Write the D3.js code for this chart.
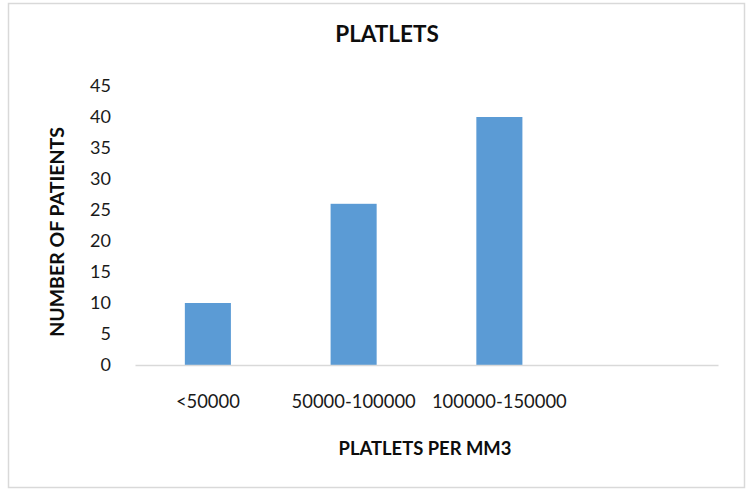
<!DOCTYPE html>
<html>
<head>
<meta charset="utf-8">
<script src="https://cdn.jsdelivr.net/npm/d3@7/dist/d3.min.js"></script>
<style>
  html, body { margin: 0; padding: 0; background: #fff; }
  svg { display: block; font-family: Lato, "Open Sans", sans-serif; }
</style>
</head>
<body>
<svg id="chart" width="753" height="490"></svg>
<script>
// Platelet count ranges and the number of patients in each
const categories = ["<50000", "50000-100000", "100000-150000", ""];
const patients = [10, 26, 40, null];
const yTicks = [0, 5, 10, 15, 20, 25, 30, 35, 40, 45];

const chartTitle = "PLATLETS";
const xTitle = "PLATLETS PER MM3";
const yTitle = "NUMBER OF PATIENTS";

const svg = d3.select("#chart");
const plot = { left: 135, right: 718, top: 86, bottom: 365 };

// outer frame
svg.append("rect")
  .attr("x", 8.5).attr("y", 3.5)
  .attr("width", 736).attr("height", 484)
  .attr("fill", "#fff")
  .attr("stroke", "#d9d9d9").attr("stroke-width", 1.5);

const x = d3.scaleBand()
  .domain(categories)
  .range([plot.left, plot.right])
  .paddingInner(0.684)
  .paddingOuter(0.342);

const y = d3.scaleLinear()
  .domain([0, 45])
  .range([plot.bottom, plot.top]);

// bars
svg.append("g")
  .selectAll("rect")
  .data(categories.map((c, i) => ({ c, v: patients[i] })).filter(d => d.v != null))
  .join("rect")
  .attr("x", d => x(d.c))
  .attr("y", d => y(d.v))
  .attr("width", x.bandwidth())
  .attr("height", d => y(0) - y(d.v))
  .attr("fill", "#5b9bd5");

// y axis labels (no line, no ticks)
const yAxis = svg.append("g")
  .attr("transform", `translate(${plot.left - 24},0)`)
  .call(d3.axisLeft(y).tickValues(yTicks).tickSize(0).tickPadding(0));
yAxis.select(".domain").remove();
yAxis.selectAll("text")
  .attr("font-family", "Lato, sans-serif")
  .attr("font-size", 18)
  .attr("fill", "#1a1a1a");

// x axis baseline and category labels
const xAxis = svg.append("g")
  .attr("transform", `translate(0,${plot.bottom})`)
  .call(d3.axisBottom(x).tickSize(0).tickPadding(30));
xAxis.select(".domain")
  .attr("stroke", "#d9d9d9").attr("stroke-width", 1.5);
xAxis.selectAll("text")
  .attr("font-family", "Lato, sans-serif")
  .attr("font-size", 18.4)
  .attr("fill", "#1a1a1a");

// titles
svg.append("text")
  .attr("x", 387).attr("y", 41.5)
  .attr("text-anchor", "middle")
  .attr("font-size", 22.5).attr("font-weight", "bold")
  .attr("fill", "#0d0d0d")
  .text(chartTitle);

svg.append("text")
  .attr("x", 425).attr("y", 455)
  .attr("text-anchor", "middle")
  .attr("font-size", 18.4).attr("font-weight", "bold")
  .attr("fill", "#0d0d0d")
  .text(xTitle);

svg.append("text")
  .attr("transform", "translate(64,232) rotate(-90)")
  .attr("text-anchor", "middle")
  .attr("font-size", 19.5).attr("font-weight", "bold")
  .attr("fill", "#0d0d0d")
  .text(yTitle);
</script>
</body>
</html>
